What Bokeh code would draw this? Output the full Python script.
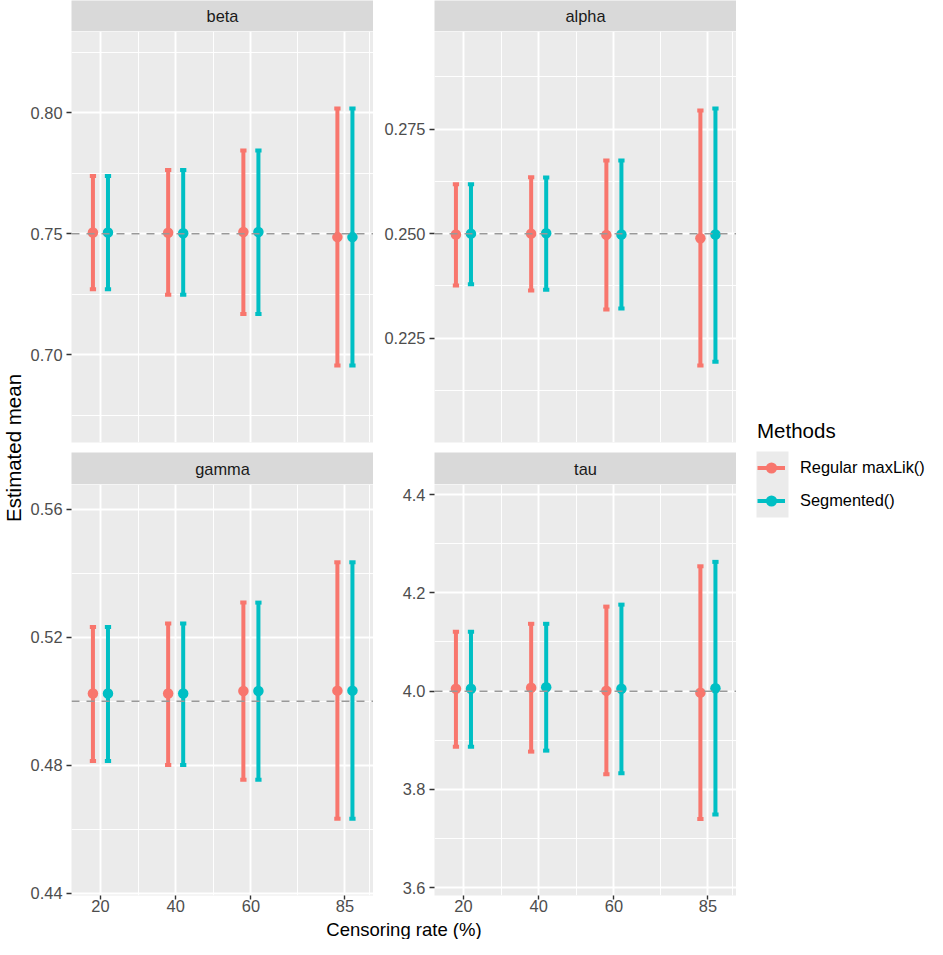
import math
from bokeh.plotting import figure
from bokeh.models import Range1d, FixedTicker, ColumnDataSource, Span, Legend, LegendItem
from bokeh.layouts import row, column
from bokeh.embed import file_html
from bokeh.resources import INLINE
from bokeh.core.properties import value

# ---------------- data ----------------
rates = [20, 40, 60, 85]
methods = ["Regular maxLik()", "Segmented()"]
colors = ["#F8766D", "#00BFC4"]
params = ["beta", "alpha", "gamma", "tau"]
true_values = [0.75, 0.25, 0.50, 4.0]

beta_reg_mean = [0.7505, 0.7504, 0.7507, 0.7486]
beta_reg_lo = [0.7271, 0.7248, 0.7169, 0.6956]
beta_reg_hi = [0.7738, 0.7763, 0.7844, 0.8017]
beta_seg_mean = [0.7505, 0.7502, 0.7507, 0.7486]
beta_seg_lo = [0.7271, 0.7248, 0.7169, 0.6956]
beta_seg_hi = [0.7738, 0.7763, 0.7844, 0.8017]

alpha_reg_mean = [0.2498, 0.2500, 0.2497, 0.2489]
alpha_reg_lo = [0.2376, 0.2364, 0.2319, 0.2185]
alpha_reg_hi = [0.2618, 0.2635, 0.2675, 0.2794]
alpha_seg_mean = [0.2500, 0.2501, 0.2498, 0.2498]
alpha_seg_lo = [0.2379, 0.2366, 0.2321, 0.2194]
alpha_seg_hi = [0.2618, 0.2634, 0.2675, 0.2799]

gamma_reg_mean = [0.5024, 0.5024, 0.5032, 0.5033]
gamma_reg_lo = [0.4813, 0.4801, 0.4755, 0.4633]
gamma_reg_hi = [0.5232, 0.5243, 0.5308, 0.5434]
gamma_seg_mean = [0.5024, 0.5024, 0.5032, 0.5033]
gamma_seg_lo = [0.4813, 0.4801, 0.4755, 0.4633]
gamma_seg_hi = [0.5232, 0.5243, 0.5308, 0.5434]

tau_reg_mean = [4.005, 4.007, 4.001, 3.997]
tau_reg_lo = [3.887, 3.877, 3.831, 3.740]
tau_reg_hi = [4.121, 4.137, 4.172, 4.254]
tau_seg_mean = [4.005, 4.008, 4.005, 4.006]
tau_seg_lo = [3.887, 3.879, 3.833, 3.749]
tau_seg_hi = [4.121, 4.137, 4.176, 4.263]

x_breaks = [20, 40, 60, 85]
x_labels = ["20", "40", "60", "85"]
x_minor = [30, 50, 72.5, 91.5]

beta_breaks = [0.70, 0.75, 0.80]
beta_labels = ["0.70", "0.75", "0.80"]
beta_minor = [0.675, 0.725, 0.775, 0.825]
alpha_breaks = [0.225, 0.250, 0.275]
alpha_labels = ["0.225", "0.250", "0.275"]
alpha_minor = [0.2125, 0.2375, 0.2625, 0.2875]
gamma_breaks = [0.44, 0.48, 0.52, 0.56]
gamma_labels = ["0.44", "0.48", "0.52", "0.56"]
gamma_minor = [0.46, 0.50, 0.54]
tau_breaks = [3.6, 3.8, 4.0, 4.2, 4.4]
tau_labels = ["3.6", "3.8", "4.0", "4.2", "4.4"]
tau_minor = [3.7, 3.9, 4.1, 4.3]

beta_range = (0.6638, 0.8335)
alpha_range = (0.2001, 0.2983)
gamma_range = (0.4393, 0.5677)
tau_range = (3.5843, 4.4204)
x_range_lim = (12.3, 92.6)

# ---------------- style / layout ----------------
FONT = "Liberation Sans"
FW = 302          # panel frame width
FH = 411          # panel frame height
YTITLE_W = 24
LEFT_B = 71 - YTITLE_W   # left border of left panels
RIGHT_B = 61             # left border of right panels
DODGE = 2.0
CAP = 0.3
TOTAL_W = 927
TOTAL_H = 939
TOP_STRIP_H = 31
STRIP_H = 32
TOP_GAP = 10
BOT_AXIS = 23
XTITLE_H = TOTAL_H - TOP_STRIP_H - (FH + TOP_GAP) - STRIP_H - (FH + BOT_AXIS)
GRID_W = (LEFT_B + FW) + (RIGHT_B + FW)
LEG_W = TOTAL_W - YTITLE_W - GRID_W
PANELS_H = TOP_STRIP_H + FH + TOP_GAP + STRIP_H + FH   # height of the strip+panel block
SIDE_BOTTOM = TOTAL_H - PANELS_H


def make_strip(label, left_border, h):
    s = figure(width=left_border + FW, height=h, x_range=Range1d(0, 1), y_range=Range1d(0, h),
               x_axis_type=None, y_axis_type=None, output_backend="svg", toolbar_location=None,
               min_border_left=left_border, min_border_right=0, min_border_top=0, min_border_bottom=0,
               background_fill_color="#D9D9D9", border_fill_color="white", outline_line_color=None,
               title=None)
    s.text(x=[0.5], y=[h / 2.0], text=[label], text_align="center", text_baseline="middle",
           text_font=value(FONT), text_font_size="16.4px", text_color="#1A1A1A")
    return s


def make_panel(series, ref, yr, ybreaks, ylabels, yminor, left_border, show_x, bottom_border):
    p = figure(width=left_border + FW, height=FH + bottom_border,
               x_range=Range1d(*x_range_lim), y_range=Range1d(*yr),
               output_backend="svg", toolbar_location=None, title=None,
               min_border_left=left_border, min_border_right=0, min_border_top=0,
               min_border_bottom=bottom_border,
               background_fill_color="#EBEBEB", border_fill_color="white", outline_line_color=None)
    xt = FixedTicker(ticks=x_breaks, minor_ticks=x_minor)
    yt = FixedTicker(ticks=ybreaks, minor_ticks=yminor)
    p.xaxis.ticker = xt
    p.yaxis.ticker = yt
    p.xgrid.ticker = xt
    p.ygrid.ticker = yt
    p.xaxis.major_label_overrides = {b: l for b, l in zip(x_breaks, x_labels)}
    p.yaxis.major_label_overrides = {b: l for b, l in zip(ybreaks, ylabels)}
    for g in (p.xgrid[0], p.ygrid[0]):
        g.grid_line_color = "white"
        g.grid_line_width = 1.9
        g.minor_grid_line_color = "white"
        g.minor_grid_line_width = 0.95
    for ax in (p.xaxis[0], p.yaxis[0]):
        ax.axis_line_color = None
        ax.major_tick_line_color = "#333333"
        ax.major_tick_line_width = 1.4
        ax.major_tick_in = 0
        ax.minor_tick_line_color = None
        ax.major_label_text_font = FONT
        ax.major_label_text_font_size = "16.4px"
        ax.major_label_text_color = "#4D4D4D"
    p.yaxis.major_tick_out = 5
    p.yaxis.major_label_standoff = 4
    p.xaxis.major_tick_out = 4
    p.xaxis.major_label_standoff = 0
    if not show_x:
        p.xaxis.visible = False

    sources = []
    for mi, (mean, lo, hi) in enumerate(series):
        off = -DODGE if mi == 0 else DODGE
        xs = [r + off for r in rates]
        sources.append(ColumnDataSource(dict(x=xs, xl=[x - CAP for x in xs], xr=[x + CAP for x in xs],
                                             mean=mean, lo=lo, hi=hi)))
    for mi, src in enumerate(sources):
        c = colors[mi]
        p.segment(x0="x", y0="lo", x1="x", y1="hi", source=src, line_color=c, line_width=4, line_cap="butt")
        p.segment(x0="xl", y0="hi", x1="xr", y1="hi", source=src, line_color=c, line_width=4, line_cap="square")
        p.segment(x0="xl", y0="lo", x1="xr", y1="lo", source=src, line_color=c, line_width=4, line_cap="square")
    for mi, src in enumerate(sources):
        p.scatter(x="x", y="mean", source=src, size=10.5, fill_color=colors[mi], line_color=None)
    p.add_layout(Span(location=ref, dimension="width", line_color="#999999", line_width=1.5, line_dash="8 7"))
    return p


beta_series = [(beta_reg_mean, beta_reg_lo, beta_reg_hi), (beta_seg_mean, beta_seg_lo, beta_seg_hi)]
alpha_series = [(alpha_reg_mean, alpha_reg_lo, alpha_reg_hi), (alpha_seg_mean, alpha_seg_lo, alpha_seg_hi)]
gamma_series = [(gamma_reg_mean, gamma_reg_lo, gamma_reg_hi), (gamma_seg_mean, gamma_seg_lo, gamma_seg_hi)]
tau_series = [(tau_reg_mean, tau_reg_lo, tau_reg_hi), (tau_seg_mean, tau_seg_lo, tau_seg_hi)]

p_beta = make_panel(beta_series, true_values[0], beta_range, beta_breaks, beta_labels, beta_minor, LEFT_B, False, TOP_GAP)
p_alpha = make_panel(alpha_series, true_values[1], alpha_range, alpha_breaks, alpha_labels, alpha_minor, RIGHT_B, False, TOP_GAP)
p_gamma = make_panel(gamma_series, true_values[2], gamma_range, gamma_breaks, gamma_labels, gamma_minor, LEFT_B, True, BOT_AXIS)
p_tau = make_panel(tau_series, true_values[3], tau_range, tau_breaks, tau_labels, tau_minor, RIGHT_B, True, BOT_AXIS)

s_beta = make_strip(params[0], LEFT_B, TOP_STRIP_H)
s_alpha = make_strip(params[1], RIGHT_B, TOP_STRIP_H)
s_gamma = make_strip(params[2], LEFT_B, STRIP_H)
s_tau = make_strip(params[3], RIGHT_B, STRIP_H)

# y-axis title: axis label of a thin figure whose frame spans the panel block
yt_fig = figure(width=YTITLE_W, height=TOTAL_H, x_range=Range1d(0, 1), y_range=Range1d(0, 1),
                x_axis_type=None, output_backend="svg", toolbar_location=None, title=None,
                min_border_left=YTITLE_W - 1, min_border_right=0, min_border_top=0,
                min_border_bottom=SIDE_BOTTOM,
                outline_line_color=None, background_fill_color="white", border_fill_color="white")
yt_fig.grid.visible = False
yax = yt_fig.yaxis[0]
yax.ticker = FixedTicker(ticks=[])
yax.axis_line_color = None
yax.major_tick_line_color = None
yax.minor_tick_line_color = None
yax.major_tick_out = 0
yax.major_label_standoff = 0
yax.axis_label = "Estimated mean"
yax.axis_label_standoff = 0
yax.axis_label_text_font = FONT
yax.axis_label_text_font_size = "20.5px"
yax.axis_label_text_font_style = "normal"
yax.axis_label_text_color = "black"

# x-axis title
xt_fig = figure(width=GRID_W, height=XTITLE_H, x_range=Range1d(0, GRID_W), y_range=Range1d(0, XTITLE_H),
                x_axis_type=None, y_axis_type=None, output_backend="svg", toolbar_location=None, title=None,
                min_border=0, outline_line_color=None, background_fill_color="white", border_fill_color="white")
xt_fig.text(x=[(LEFT_B + GRID_W) / 2.0], y=[XTITLE_H / 2.0], text=["Censoring rate (%)"], text_align="center",
            text_baseline="middle", text_font=value(FONT), text_font_size="18.5px", text_color="black")

# legend (frame aligned with the y-title figure: frame covers the panel block)
lf = figure(width=LEG_W, height=TOTAL_H, x_range=Range1d(0, LEG_W), y_range=Range1d(0, PANELS_H),
            x_axis_type=None, y_axis_type=None, output_backend="svg", toolbar_location=None, title=None,
            min_border_left=0, min_border_right=0, min_border_top=0, min_border_bottom=SIDE_BOTTOM,
            outline_line_color=None, background_fill_color="white", border_fill_color="white")
key_left, key_w, key_h = 20, 32, 33
key_bottom = PANELS_H - 517
lf.quad(left=[key_left], right=[key_left + key_w], bottom=[key_bottom], top=[key_bottom + 2 * key_h],
        fill_color="#EBEBEB", line_color=None)
items = []
nan = float("nan")
for m, c in zip(methods, colors):
    lr = lf.line(x=[nan], y=[nan], line_color=c, line_width=4)
    sr = lf.scatter(x=[nan], y=[nan], size=10.5, fill_color=c, line_color=None)
    items.append(LegendItem(label=m, renderers=[lr, sr]))
leg = Legend(items=items, location=(key_left + 1, key_bottom), orientation="vertical",
             glyph_width=28, glyph_height=key_h, label_height=key_h, spacing=0, padding=0, margin=0,
             label_standoff=15, title="Methods", title_text_font=FONT, title_text_font_size="20.5px",
             title_text_font_style="normal", title_text_color="black", title_standoff=8,
             label_text_font=FONT, label_text_font_size="16.4px", label_text_color="black",
             border_line_color=None, background_fill_alpha=0)
lf.add_layout(leg)

layout = row(
    yt_fig,
    column(
        row(column(s_beta, p_beta), column(s_alpha, p_alpha)),
        row(column(s_gamma, p_gamma), column(s_tau, p_tau)),
        xt_fig,
    ),
    lf,
)

open("out.html", "w").write(file_html(layout, INLINE))
